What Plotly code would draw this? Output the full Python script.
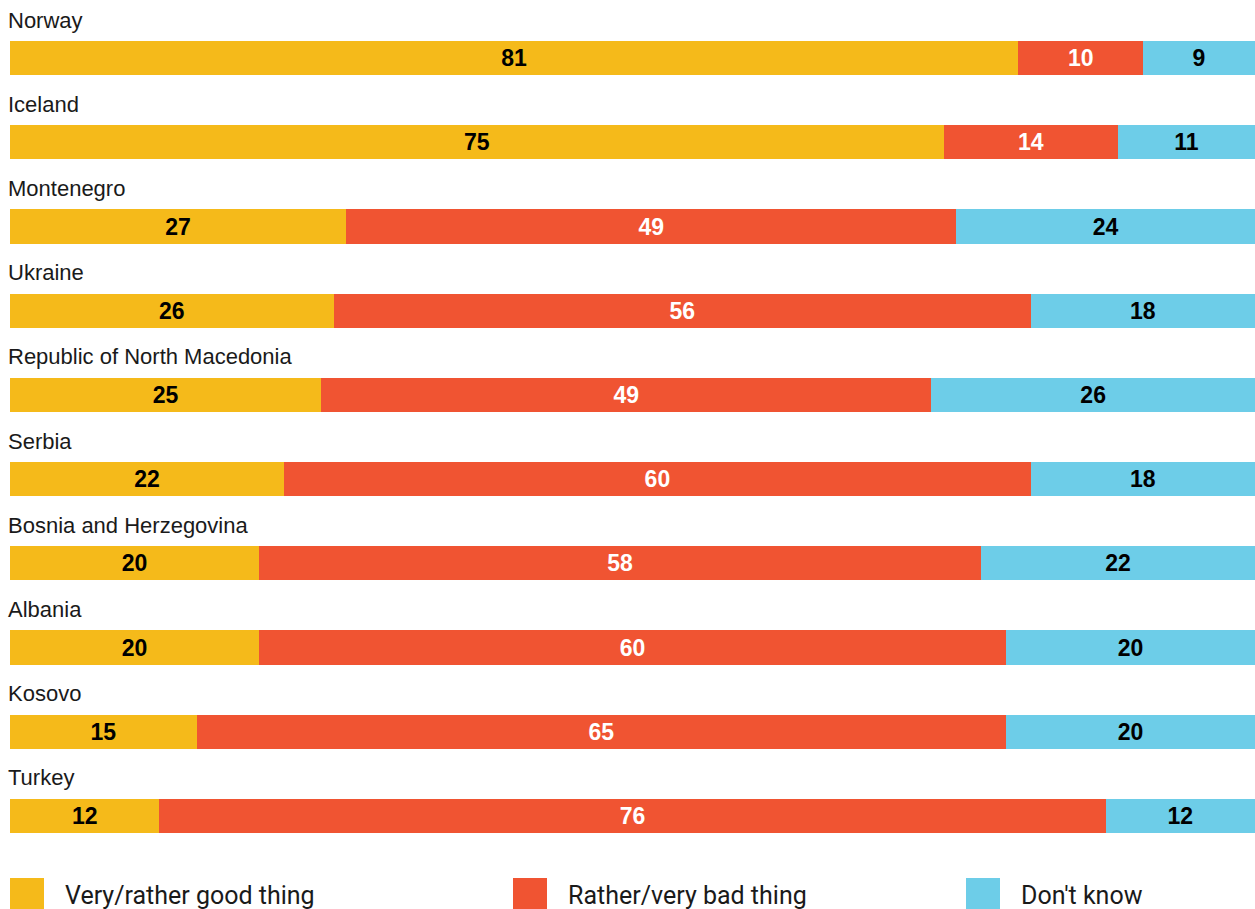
import plotly.graph_objects as go

countries = ["Norway", "Iceland", "Montenegro", "Ukraine", "Republic of North Macedonia",
             "Serbia", "Bosnia and Herzegovina", "Albania", "Kosovo", "Turkey"]
good = [81, 75, 27, 26, 25, 22, 20, 20, 15, 12]
bad = [10, 14, 49, 56, 49, 60, 58, 60, 65, 76]
dont_know = [9, 11, 24, 18, 26, 18, 22, 20, 20, 12]
series_names = ["Very/rather good thing", "Rather/very bad thing", "Don't know"]

colors = ["#F5BA1A", "#F05432", "#6DCDE8"]
text_colors = ["#000000", "#FFFFFF", "#000000"]

W, H = 1255, 909
M_L, M_R, M_T, M_B = 10, 0, 16, 51
plot_h = H - M_T - M_B

fig = go.Figure()
for name, vals, col, tcol in zip(series_names, [good, bad, dont_know], colors, text_colors):
    fig.add_trace(go.Bar(
        y=countries, x=vals, name=name, orientation="h",
        marker=dict(color=col, line=dict(width=0)),
        text=[str(v) for v in vals], textposition="inside",
        insidetextanchor="middle", textangle=0,
        textfont=dict(family="Liberation Sans, Arial, sans-serif", size=23, color=tcol),
        texttemplate="<b>%{text}</b>",
        showlegend=False, hoverinfo="skip",
    ))

# Country names above each bar
annotations = []
for c in countries:
    annotations.append(dict(
        x=0, xref="paper", xanchor="left", xshift=-4,
        y=c, yref="y", yanchor="middle", yshift=38,
        text=c, showarrow=False,
        font=dict(family="Liberation Sans, Arial, sans-serif", size=22, color="#1a1a1a"),
    ))

# Custom legend row along the bottom
def py(pix):
    return (H - M_B - pix) / plot_h

def px(pix):
    return (pix - M_L) / (W - M_L - M_R)

shapes = []
legend_x = [10, 513, 966]
for name, col, lx in zip(series_names, colors, legend_x):
    shapes.append(dict(type="rect", xref="paper", yref="paper",
                       x0=px(lx), x1=px(lx + 34), y0=py(909), y1=py(878),
                       fillcolor=col, line=dict(width=0)))
    annotations.append(dict(
        x=px(lx + 56), xref="paper", xanchor="left", xshift=-3,
        y=py(895), yref="paper", yanchor="middle",
        text=name, showarrow=False,
        font=dict(family="Roboto, Noto Sans, sans-serif", size=25, color="#1a1a1a"),
    ))

fig.update_layout(
    width=W, height=H,
    margin=dict(l=M_L, r=M_R, t=M_T, b=M_B, pad=0),
    barmode="stack", bargap=0.596,
    plot_bgcolor="white", paper_bgcolor="white",
    xaxis=dict(range=[0, 100], visible=False, fixedrange=True),
    yaxis=dict(categoryorder="array", categoryarray=countries,
               range=[len(countries) - 0.5, -0.5],
               visible=False, fixedrange=True),
    annotations=annotations, shapes=shapes,
    uniformtext=dict(minsize=23, mode="show"),
)

fig.write_html("out.html", config={"displayModeBar": False})
